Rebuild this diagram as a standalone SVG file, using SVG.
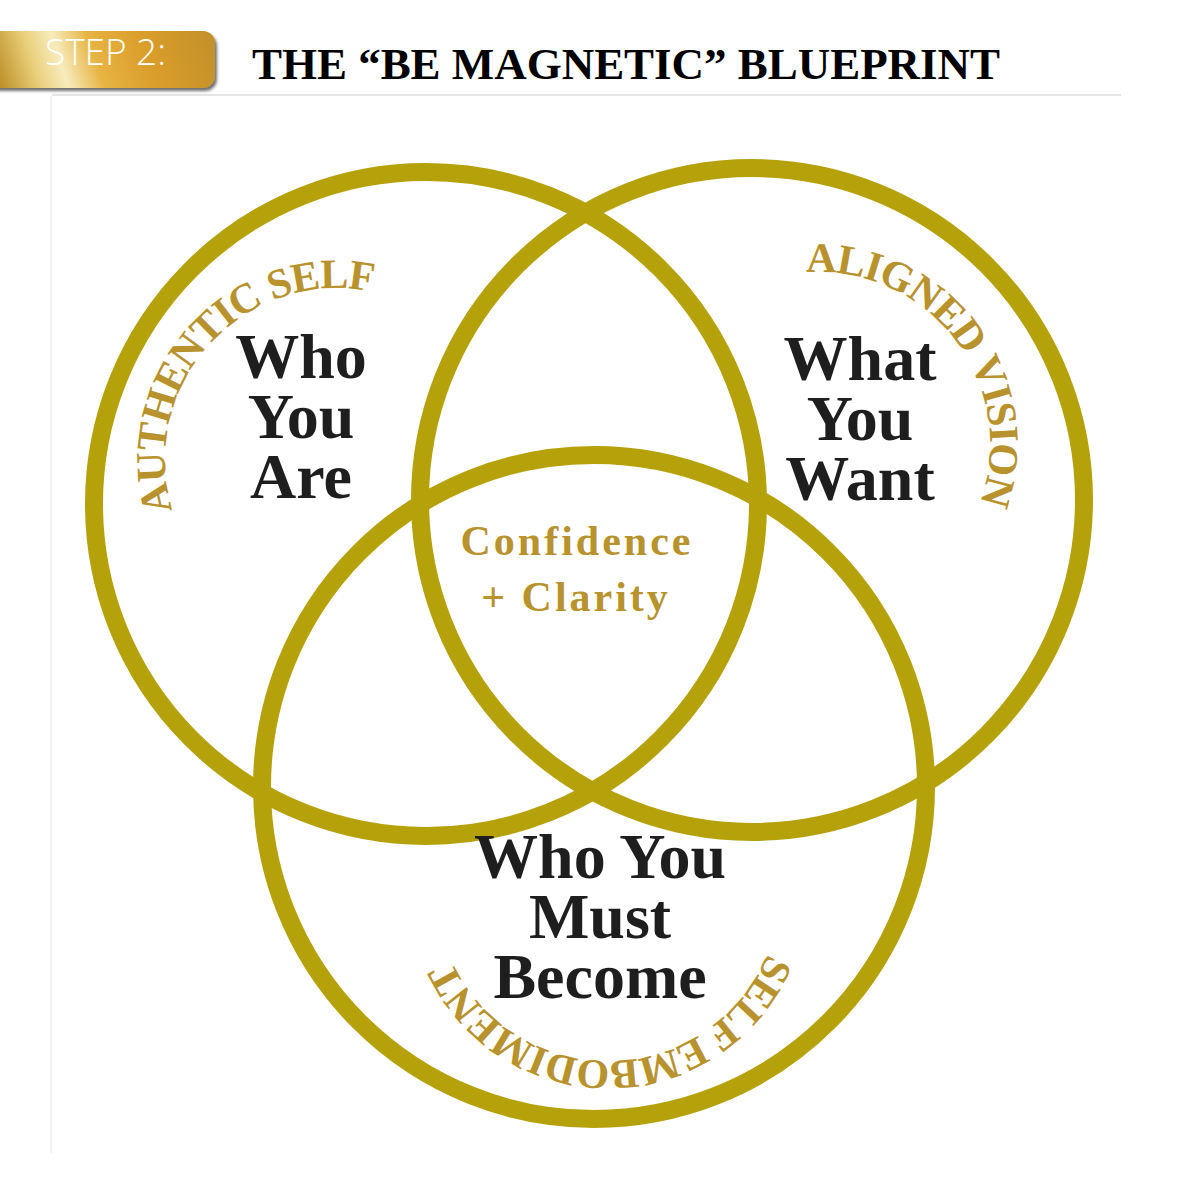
<svg xmlns="http://www.w3.org/2000/svg" width="1200" height="1200" viewBox="0 0 1200 1200">
  <style>
    .ring { fill: none; stroke: #b5a20b; stroke-width: 18; }
    .main { font-family: "Liberation Serif", "Times New Roman", serif; font-weight: bold; font-size: 64px; fill: #1e1e1e; text-anchor: middle; }
    .arc { font-family: "Liberation Serif", "Times New Roman", serif; font-weight: bold; font-size: 42px; letter-spacing: -1px; fill: #b8922c; }
    .center { font-family: "Liberation Serif", "Times New Roman", serif; font-weight: bold; font-size: 42px; fill: #b8922c; text-anchor: middle; letter-spacing: 3px; }
  </style>
  <defs>
    <linearGradient id="gold" gradientUnits="userSpaceOnUse" x1="0" y1="95" x2="215" y2="25">
      <stop offset="0" stop-color="#b98a22"/>
      <stop offset="0.18" stop-color="#e9cf7a"/>
      <stop offset="0.3" stop-color="#f7ecbc"/>
      <stop offset="0.45" stop-color="#e7b443"/>
      <stop offset="0.65" stop-color="#dc9f2c"/>
      <stop offset="1" stop-color="#c18f2a"/>
    </linearGradient>
    <filter id="shadow" x="-10%" y="-20%" width="130%" height="160%">
      <feDropShadow dx="2" dy="3" stdDeviation="1.5" flood-color="#333" flood-opacity="0.7"/>
    </filter>
    <path id="arcLeft" d="M172.5,510.3 A172,172 0 0 1 395.8,298.4"/>
    <path id="arcRight" d="M806,272.4 A172,172 0 0 1 967,530"/>
    <path id="arcBottom" d="M767.5,953.4 A172,172 0 0 1 438.6,918.9"/>
  </defs>

  <rect x="0" y="0" width="1200" height="1200" fill="#ffffff"/>

  <g id="frame">
    <line x1="52" y1="95" x2="1121" y2="95" stroke="#dddddd" stroke-width="1.5"/>
    <line x1="51" y1="96" x2="51" y2="1153" stroke="#eeeeee" stroke-width="1.5"/>
  </g>

  <g id="step-badge">
    <rect x="-14" y="31" width="229" height="57" rx="12" fill="url(#gold)" filter="url(#shadow)"/>
    <text x="45" y="65" font-family="'Open Sans', 'Liberation Sans', sans-serif" font-weight="300" font-size="36" fill="#ffffff" textLength="121" lengthAdjust="spacingAndGlyphs">STEP 2:</text>
  </g>

  <g id="title">
    <text x="252" y="79" font-family="'Liberation Serif', 'Times New Roman', serif" font-weight="bold" font-size="45" fill="#000000" textLength="748" lengthAdjust="spacingAndGlyphs">THE “BE MAGNETIC” BLUEPRINT</text>
  </g>

  <g id="node-who-you-are">
    <circle class="ring" cx="426" cy="504" r="332"/>
    <text class="arc"><textPath href="#arcLeft">AUTHENTIC SELF</textPath></text>
    <text class="main" x="301" y="378">Who</text>
    <text class="main" x="301" y="438">You</text>
    <text class="main" x="301" y="498">Are</text>
  </g>

  <g id="node-what-you-want">
    <circle class="ring" cx="752" cy="500" r="332"/>
    <text class="arc"><textPath href="#arcRight">ALIGNED VISION</textPath></text>
    <text class="main" x="860" y="380">What</text>
    <text class="main" x="860" y="440">You</text>
    <text class="main" x="860" y="500">Want</text>
  </g>

  <g id="node-who-you-must-become">
    <circle class="ring" cx="594" cy="787" r="332"/>
    <text class="arc"><textPath href="#arcBottom">SELF EMBODIMENT</textPath></text>
    <text class="main" x="600" y="878">Who You</text>
    <text class="main" x="600" y="938">Must</text>
    <text class="main" x="600" y="998">Become</text>
  </g>

  <g id="node-center">
    <text class="center" x="577" y="555">Confidence</text>
    <text class="center" x="576" y="611">+ Clarity</text>
  </g>
</svg>
